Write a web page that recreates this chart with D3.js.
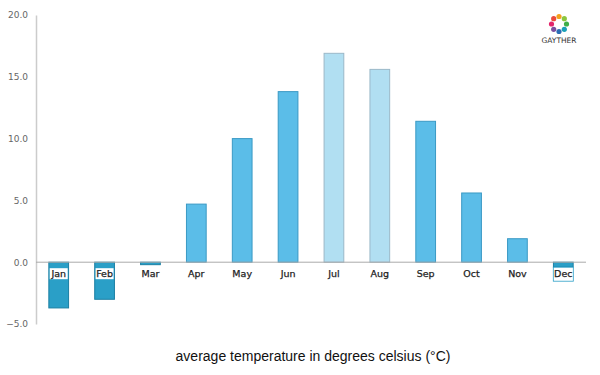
<!DOCTYPE html>
<html>
<head>
<meta charset="utf-8">
<script src="https://cdn.jsdelivr.net/npm/d3@7"></script>
<style>
  body { margin: 0; background: #fff; }
  svg { display: block; }
</style>
</head>
<body>
<svg id="chart" width="600" height="375"></svg>
<script>
const months = ["Jan","Feb","Mar","Apr","May","Jun","Jul","Aug","Sep","Oct","Nov","Dec"];
const temps = [-3.7, -3.0, -0.2, 4.7, 10.0, 13.8, 16.9, 15.6, 11.4, 5.6, 1.9, -0.4];
const yTicks = [-5, 0, 5, 10, 15, 20];
const logoColors = ["#f4a11d","#8cc63f","#3fae49","#1aa0b8","#2a6db5","#7b4fa0","#e3256b","#e94b3c"];

const svg = d3.select("#chart");
const margin = { left: 36, right: 14, top: 15, bottom: 51 };
const width = 600, height = 375;

const x = d3.scaleBand()
  .domain(months)
  .range([margin.left, width - margin.right])
  .paddingInner(0.57)
  .paddingOuter(0.28);

const y = d3.scaleLinear()
  .domain([-5, 20])
  .range([324, margin.top]);

// y axis
const yAxis = svg.append("g")
  .attr("transform", `translate(${margin.left},0)`)
  .call(d3.axisLeft(y).tickValues(yTicks).tickFormat(d3.format(".1f")).tickSize(0).tickPadding(8));
yAxis.select(".domain").attr("stroke", "#ccc").attr("stroke-width", 1.5);
yAxis.selectAll("text")
  .attr("fill", "#666")
  .attr("font-family", "DejaVu Sans")
  .attr("font-size", 9);

// bars
const fillFor = d => d < 0 ? "#2a9fc7" : (d > 15 ? "#b1dff2" : "#5bbde8");
const strokeFor = d => d < 0 ? "#1b7fa3" : (d > 15 ? "#9bb8c8" : "#3a99c4");

svg.append("g")
  .selectAll("rect")
  .data(temps)
  .join("rect")
  .attr("x", (d, i) => x(months[i]))
  .attr("width", x.bandwidth())
  .attr("y", d => y(Math.max(0, d)))
  .attr("height", d => Math.abs(y(d) - y(0)))
  .attr("fill", fillFor)
  .attr("stroke", strokeFor)
  .attr("stroke-width", 1);

// zero line
svg.append("line")
  .attr("x1", margin.left)
  .attr("x2", width - margin.right)
  .attr("y1", y(0))
  .attr("y2", y(0))
  .attr("stroke", "#aaa")
  .attr("stroke-width", 1);

// month labels
const labels = svg.append("g");
months.forEach((m, i) => {
  const cx = x(m) + x.bandwidth() / 2;
  const g = labels.append("g");
  if (temps[i] < -0.3 && i !== 11) {
    g.append("rect")
      .attr("x", cx - 9)
      .attr("y", y(0) + 6)
      .attr("width", 18)
      .attr("height", 11)
      .attr("fill", "#fff");
  }
  if (i === 11) {
    g.append("rect")
      .attr("x", cx - 10)
      .attr("y", y(0) + 5)
      .attr("width", 20)
      .attr("height", 14)
      .attr("fill", "#fff")
      .attr("stroke", "#2a9fc7")
      .attr("stroke-width", 0.8);
  }
  g.append("text")
    .attr("x", cx)
    .attr("y", y(0) + 15)
    .attr("text-anchor", "middle")
    .attr("font-family", "DejaVu Sans")
    .attr("font-size", 9.5)
    .attr("stroke", "#222")
    .attr("stroke-width", 0.25)
    .attr("fill", "#222")
    .text(m);
});

// caption
svg.append("text")
  .attr("x", 313)
  .attr("y", 361)
  .attr("text-anchor", "middle")
  .attr("font-family", "Liberation Sans")
  .attr("font-size", 14)
  .attr("fill", "#111")
  .text("average temperature in degrees celsius (°C)");

// logo
const logo = svg.append("g").attr("transform", "translate(559,24)");
logoColors.forEach((c, i) => {
  const a = (i / logoColors.length) * 2 * Math.PI - Math.PI / 2;
  logo.append("circle")
    .attr("cx", Math.cos(a) * 7.5)
    .attr("cy", Math.sin(a) * 7.5)
    .attr("r", 2.6)
    .attr("fill", c);
});
svg.append("text")
  .attr("x", 559)
  .attr("y", 43)
  .attr("text-anchor", "middle")
  .attr("font-family", "DejaVu Sans")
  .attr("font-size", 7.5)
  .attr("fill", "#333")
  .text("GAYTHER");
</script>
</body>
</html>
